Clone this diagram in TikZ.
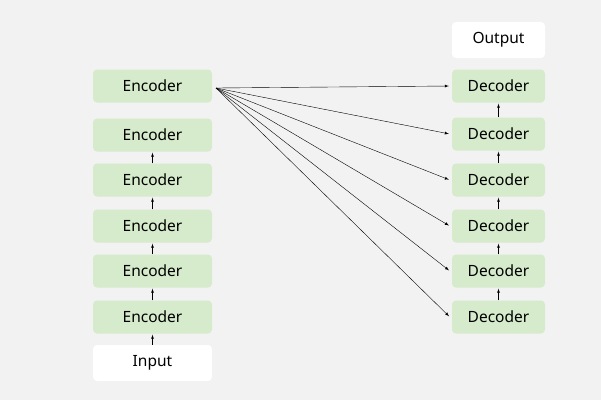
\documentclass[tikz,border=0pt]{standalone}
\usepackage{fontspec}
\setmainfont{Noto Sans}
\definecolor{bg}{HTML}{F2F2F2}
\definecolor{gr}{HTML}{D5EBCB}
\begin{document}
\begin{tikzpicture}[x=1pt,y=-1pt,
  box/.style={rounded corners=4pt,minimum height=33pt,inner sep=0pt,font=\fontsize{15.5}{18}\selectfont},
  enc/.style={box,fill=gr,minimum width=119pt},
  dec/.style={box,fill=gr,minimum width=93pt},
  arr/.style={-latex,thin,black,shorten >=1pt}]
\fill[bg] (0,0) rectangle (601,400);
\useasboundingbox (0,0) rectangle (601,400);
\node[enc] (e1) at (152.5,86) {Encoder};
\node[enc] (e2) at (152.5,135) {Encoder};
\node[enc] (e3) at (152.5,180) {Encoder};
\node[enc] (e4) at (152.5,226) {Encoder};
\node[enc] (e5) at (152.5,271) {Encoder};
\node[enc] (e6) at (152.5,317) {Encoder};
\node[box,fill=white,minimum width=119pt,minimum height=36pt] (in) at (152.5,363) {Input};
\node[dec] (d1) at (498.5,86) {Decoder};
\node[dec] (d2) at (498.5,134) {Decoder};
\node[dec] (d3) at (498.5,180) {Decoder};
\node[dec] (d4) at (498.5,226) {Decoder};
\node[dec] (d5) at (498.5,271) {Decoder};
\node[dec] (d6) at (498.5,317) {Decoder};
\node[box,fill=white,minimum width=93pt,minimum height=36pt] (out) at (498.5,40) {Output};
\draw[arr] (in) -- (e6);
\draw[arr] (e6) -- (e5);
\draw[arr] (e5) -- (e4);
\draw[arr] (e4) -- (e3);
\draw[arr] (e3) -- (e2);
\draw[arr] (d6) -- (d5);
\draw[arr] (d5) -- (d4);
\draw[arr] (d4) -- (d3);
\draw[arr] (d3) -- (d2);
\draw[arr] (d2) -- (d1);
\coordinate (s) at (216,88);
\foreach \d in {d1,d2,d3,d4,d5,d6} \draw[arr] (s) -- ([xshift=-2pt]\d.west);
\end{tikzpicture}
\end{document}
